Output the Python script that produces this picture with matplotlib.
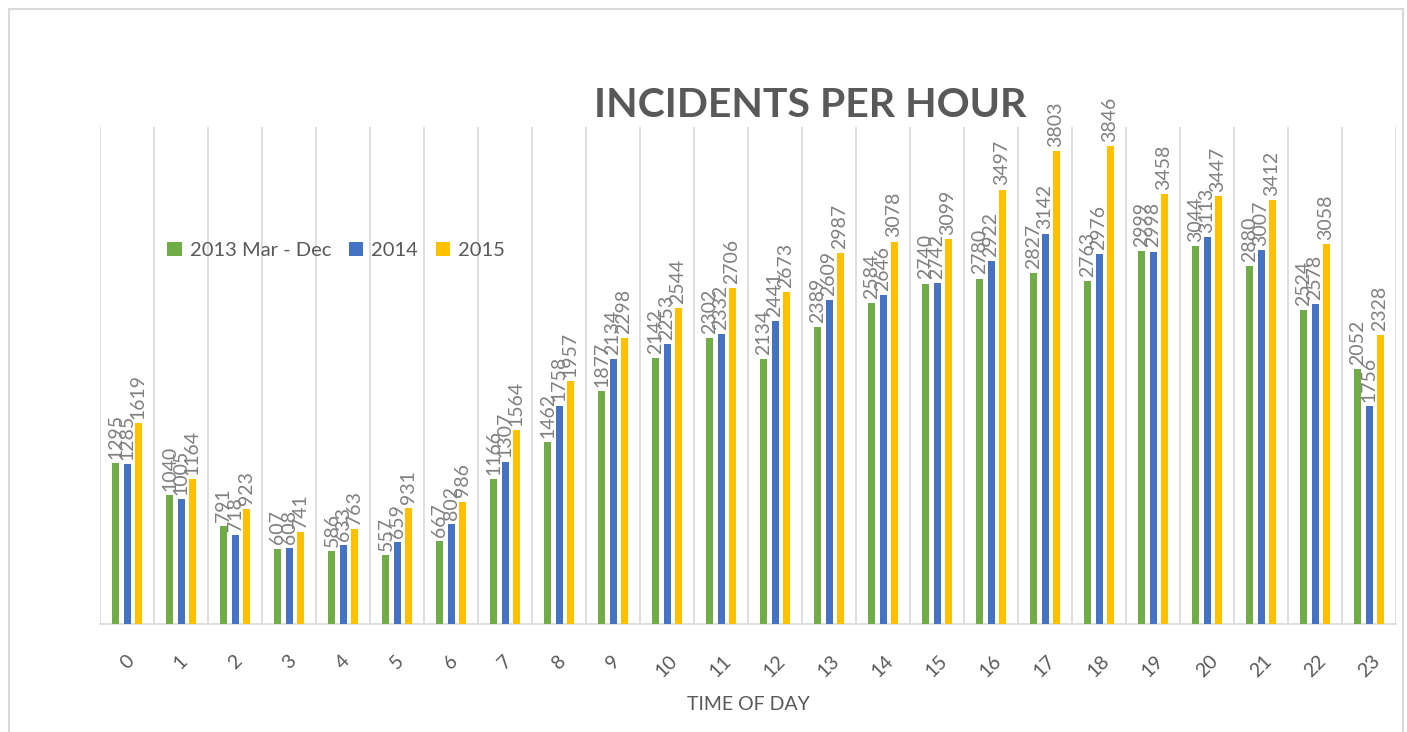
import matplotlib.pyplot as plt
from matplotlib.patches import Rectangle
import numpy as np

plt.rcParams['font.family'] = ['Lato', 'DejaVu Sans']

hours = [str(h) for h in range(24)]
y2013 = [1295, 1040, 791, 607, 586, 557, 667, 1166, 1462, 1877, 2142, 2302,
         2134, 2389, 2584, 2740, 2780, 2827, 2763, 2999, 3044, 2880, 2524, 2052]
y2014 = [1285, 1005, 718, 608, 633, 659, 802, 1307, 1758, 2134, 2253, 2332,
         2441, 2609, 2646, 2742, 2922, 3142, 2976, 2998, 3113, 3007, 2578, 1756]
y2015 = [1619, 1164, 923, 741, 763, 931, 986, 1564, 1957, 2298, 2544, 2706,
         2673, 2987, 3078, 3099, 3497, 3803, 3846, 3458, 3447, 3412, 3058, 2328]
series_names = ['2013 Mar - Dec', '2014', '2015']
colors = ['#70AD47', '#4472C4', '#FFC000']

fig = plt.figure(figsize=(14.07, 7.32), dpi=100)
ax = fig.add_axes([0.0711, 0.1475, 0.9211, 0.679])

# outer border like the chart area frame
fig.patches.append(Rectangle((9 / 1407, -0.01), 1394 / 1407, 1.0 - 9 / 732 + 0.01,
                             transform=fig.transFigure, fill=False,
                             edgecolor='#D9D9D9', linewidth=1.5))

x = np.arange(len(hours))
width = 0.13
offsets = [-0.205, 0, 0.205]

for vals, name, col, off in zip([y2013, y2014, y2015], series_names, colors, offsets):
    bars = ax.bar(x + off, vals, width, color=col, label=name, zorder=3)
    for b, v in zip(bars, vals):
        ax.annotate(str(v), (b.get_x() + b.get_width() / 2, v),
                    xytext=(0, 3), textcoords='offset points',
                    rotation=90, ha='center', va='bottom',
                    fontsize=14, color='#808080')

ax.set_xlim(-0.5, 23.5)
ax.set_ylim(0, 4000)
ax.set_xticks(x)
ax.set_xticklabels(hours, rotation=45, fontsize=14, color='#595959')
ax.set_xticks(np.arange(-0.5, 24, 1), minor=True)
ax.tick_params(axis='x', which='both', length=0, pad=20)
ax.grid(True, axis='x', which='minor', color='#D9D9D9', linewidth=1.2, zorder=0)
ax.set_yticks([])
for s in ['top', 'right', 'left']:
    ax.spines[s].set_visible(False)
ax.spines['bottom'].set_color('#D9D9D9')
ax.spines['bottom'].set_linewidth(1.2)

ax.set_xlabel('TIME OF DAY', fontsize=14, color='#595959', labelpad=12)

fig.text(0.576, 0.856, 'INCIDENTS PER HOUR', ha='center', va='center',
         fontsize=29.5, fontweight='bold', color='#595959')

ax.legend(loc='upper left', bbox_to_anchor=(0.038, 0.805), frameon=False,
          ncol=3, fontsize=14.5, labelcolor='#595959', handlelength=0.7,
          handleheight=0.7, handletextpad=0.4, columnspacing=0.9)

fig.savefig('out.png', dpi=100)
